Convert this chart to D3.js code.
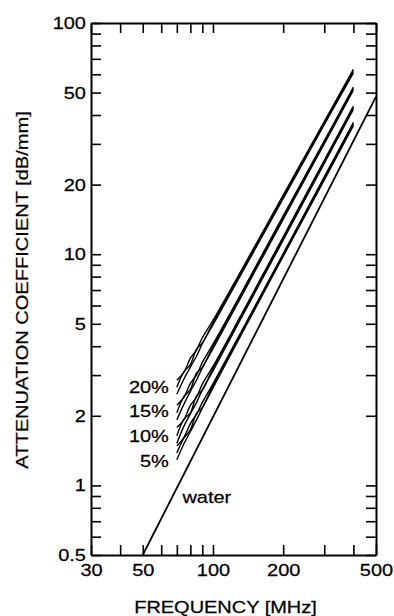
<!DOCTYPE html>
<html>
<head>
<meta charset="utf-8">
<script src="https://cdn.jsdelivr.net/npm/d3@7"></script>
<style>
  html, body { margin: 0; padding: 0; background: #fff; }
</style>
</head>
<body>
<div id="chart"></div>
<script>
// frequencies (MHz) where each measured curve was sampled
const freq = [70, 75, 80, 85, 90, 100, 130, 200, 300, 400];

// attenuation (dB/mm), three samples per concentration
const samples20 = [
  [2.85, 3.08, 3.55, 3.85, 4.35, 5.18, 8.25, 18.0, 37.5, 63.0],
  [2.66, 3.10, 3.33, 3.88, 4.13, 5.05, 8.12, 17.7, 36.9, 61.8],
  [2.48, 2.88, 3.25, 3.62, 4.10, 4.95, 7.95, 17.4, 36.3, 60.8]
];
const samples15 = [
  [2.22, 2.40, 2.76, 3.00, 3.40, 4.08, 6.58, 14.65, 30.9, 52.8],
  [2.06, 2.42, 2.60, 3.06, 3.24, 3.99, 6.48, 14.4, 30.5, 52.0],
  [1.92, 2.24, 2.55, 2.85, 3.22, 3.90, 6.35, 14.15, 30.0, 51.2]
];
const samples10 = [
  [1.78, 1.92, 2.22, 2.40, 2.74, 3.27, 5.30, 11.9, 25.5, 43.7],
  [1.64, 1.93, 2.06, 2.44, 2.58, 3.20, 5.23, 11.7, 25.1, 43.0],
  [1.52, 1.80, 2.04, 2.28, 2.59, 3.13, 5.13, 11.5, 24.7, 42.3]
];
const samples5 = [
  [1.48, 1.61, 1.85, 2.03, 2.28, 2.75, 4.48, 10.05, 21.6, 37.2],
  [1.38, 1.60, 1.74, 2.05, 2.17, 2.70, 4.42, 9.93, 21.3, 36.6],
  [1.29, 1.51, 1.71, 1.92, 2.16, 2.64, 4.34, 9.78, 20.9, 36.0]
];

// pure water reference
const waterFreq = [50, 500];
const waterAtt = [0.5, 48];

const concLabels = ["20%", "15%", "10%", "5%"];
const concLabelAt = [2.52, 1.98, 1.545, 1.205]; // attenuation level of each label baseline

// axis ticks
const xTicks = [30, 40, 50, 60, 70, 80, 90, 100, 200, 300, 400, 500];
const xMajor = [30, 50, 100, 200, 500];
const xLabels = ["30", "50", "100", "200", "500"];
const yTicks = [0.5, 0.6, 0.7, 0.8, 0.9, 1, 2, 3, 4, 5, 6, 7, 8, 9, 10, 20, 30, 40, 50, 60, 70, 80, 90, 100];
const yMajor = [0.5, 1, 2, 5, 10, 20, 50, 100];
const yLabels = ["0.5", "1", "2", "5", "10", "20", "50", "100"];

// layout
const margin = {top: 23, right: 18, bottom: 61, left: 91};
const W = 394, H = 616;
const width = W - margin.left - margin.right;
const height = H - margin.top - margin.bottom;
const FONT = "'Liberation Sans', Arial, Helvetica, sans-serif";
const STRETCH = 1.175; // the original lettering is wide

const svg = d3.select("#chart").append("svg")
    .attr("width", W)
    .attr("height", H)
    .style("display", "block");

const g = svg.append("g")
    .attr("transform", `translate(${margin.left},${margin.top})`);

const x = d3.scaleLog().domain([30, 500]).range([0, width]);
const y = d3.scaleLog().domain([0.5, 100]).range([height, 0]);

function styleAxis(sel) {
  sel.attr("font-family", FONT).attr("font-size", 17);
  sel.select(".domain").attr("stroke", "#000").attr("stroke-width", 2);
  sel.selectAll(".tick line").attr("stroke", "#000").attr("stroke-width", 1.6);
  sel.selectAll(".tick text").attr("fill", "#000")
     .attr("stroke", "#000").attr("stroke-width", 0.25)
     .attr("transform", `scale(${STRETCH},1)`);
}

// bottom / top
g.append("g")
    .attr("transform", `translate(0,${height})`)
    .call(d3.axisBottom(x).tickValues(xTicks).tickSize(-10).tickSizeOuter(0).tickPadding(9)
      .tickFormat(d => { const i = xMajor.indexOf(d); return i < 0 ? "" : xLabels[i]; }))
    .call(styleAxis);

g.append("g")
    .call(d3.axisTop(x).tickValues(xTicks).tickSize(-10).tickSizeOuter(0).tickFormat(() => ""))
    .call(styleAxis);

// left / right
g.append("g")
    .call(d3.axisLeft(y).tickValues(yTicks).tickSize(-10).tickSizeOuter(0).tickPadding(4.3)
      .tickFormat(d => { const i = yMajor.indexOf(d); return i < 0 ? "" : yLabels[i]; }))
    .call(styleAxis);

g.append("g")
    .attr("transform", `translate(${width},0)`)
    .call(d3.axisRight(y).tickValues(yTicks).tickSize(-10).tickSizeOuter(0).tickFormat(() => ""))
    .call(styleAxis);

// curves
const line = d3.line()
    .x(d => x(d[0]))
    .y(d => y(d[1]))
    .curve(d3.curveCatmullRom.alpha(0.5));

const bands = [samples20, samples15, samples10, samples5];
bands.forEach(band => {
  band.forEach(vals => {
    g.append("path")
      .datum(freq.map((f, i) => [f, vals[i]]))
      .attr("fill", "none")
      .attr("stroke", "#000")
      .attr("stroke-width", 1.4)
      .attr("d", line);
  });
});

g.append("path")
    .datum(waterFreq.map((f, i) => [f, waterAtt[i]]))
    .attr("fill", "none")
    .attr("stroke", "#000")
    .attr("stroke-width", 1.8)
    .attr("d", line);

// text helper
function label(sel, t) {
  return sel.attr("font-family", FONT)
    .attr("font-size", 17)
    .attr("fill", "#000")
    .attr("stroke", "#000")
    .attr("stroke-width", 0.25)
    .text(t);
}

// labels on the curves
concLabels.forEach((t, i) => {
  g.append("text")
    .attr("transform", `translate(${x(freq[0]) - 8},${y(concLabelAt[i])}) scale(${STRETCH},1)`)
    .attr("text-anchor", "end")
    .call(label, t);
});

g.append("text")
    .attr("transform", `translate(${x(74)},${y(0.84)}) scale(${STRETCH},1)`)
    .call(label, "water");

// axis titles
svg.append("text")
    .attr("transform", `translate(${margin.left + width / 2 - 8},613) scale(${STRETCH},1)`)
    .attr("text-anchor", "middle")
    .call(label, "FREQUENCY [MHz]");

svg.append("text")
    .attr("transform", `translate(28,290) rotate(-90) scale(1.18,1)`)
    .attr("text-anchor", "middle")
    .call(label, "ATTENUATION COEFFICIENT [dB/mm]");
</script>
</body>
</html>
